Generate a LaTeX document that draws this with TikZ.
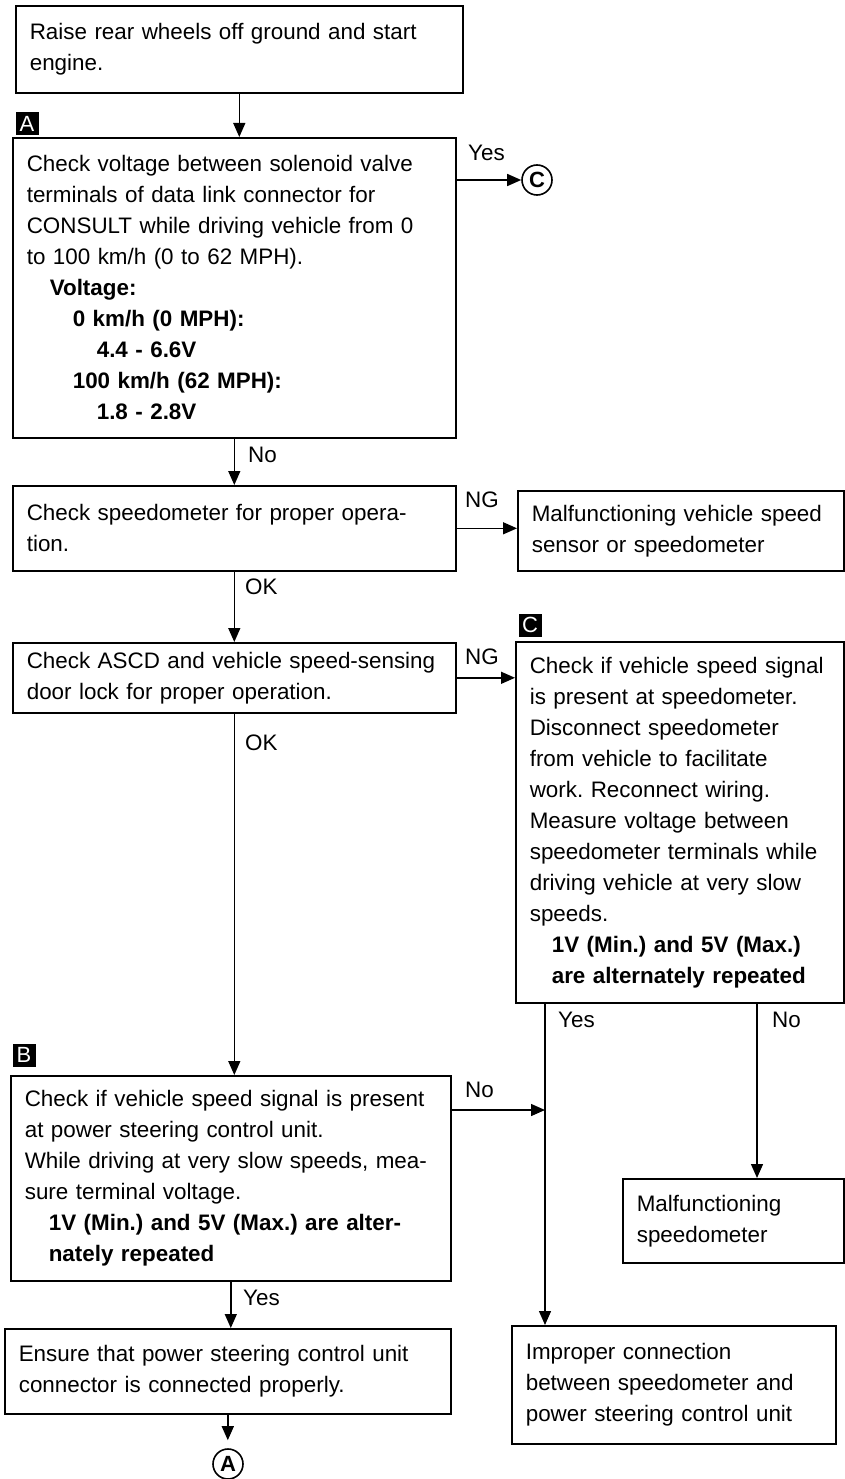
\documentclass[tikz,border=0pt]{standalone}
\usepackage{fontspec}
\setmainfont{Liberation Sans}
\usetikzlibrary{arrows.meta,positioning}
\frenchspacing

\begin{document}
\begin{tikzpicture}[x=1pt, y=-1pt, font=\fontsize{22.4}{31}\selectfont,
  box/.style={draw, line width=1.6pt, anchor=north west, align=left, inner xsep=14pt, inner ysep=0pt},
  flow/.style={-{Triangle[length=14pt,width=12pt]}, line width=1.4pt},
  tag/.style={fill=black, text=white, inner sep=0pt, minimum size=23pt, font=\fontsize{22}{22}\selectfont},
  jump/.style={circle, draw, line width=1.6pt, inner sep=0pt, minimum size=30pt, font=\fontsize{22}{22}\selectfont\bfseries},
  lbl/.style={anchor=west, inner sep=0pt}]
\useasboundingbox (0,0) rectangle (845,1479);
% first check
\node[box, text width=419pt, minimum height=87pt] (start) at (15,5) {Raise rear wheels off ground and start\\engine.};
\node[tag] (tagA) at (27,124) {A};
\node[box, text width=415pt, minimum height=300pt] (volt) at (12,137) {Check voltage between solenoid valve\\terminals of data link connector for\\CONSULT while driving vehicle from 0\\to 100 km/h (0 to 62 MPH).\\\hspace*{23pt}\textbf{Voltage:}\\\hspace*{46pt}\textbf{0 km/h (0 MPH):}\\\hspace*{70pt}\textbf{4.4 - 6.6V}\\\hspace*{46pt}\textbf{100 km/h (62 MPH):}\\\hspace*{70pt}\textbf{1.8 - 2.8V}};
\draw[flow] (start.south) -- (start.south |- volt.north);
\node[jump] (cC) at (537,180) {C};
\draw[flow] (cC -| volt.east) -- (cC.west);
\node[lbl] at (468,153) {Yes};
% speedometer
\node[box, text width=415pt, minimum height=85pt] (speedo) at (12,485) {Check speedometer for proper opera-\\tion.};
\draw[flow] (volt.south) -- (speedo.north);
\node[lbl] at (248,455) {No};
\node[box, text width=298pt, minimum height=80pt] (sensor) at (517,490) {Malfunctioning vehicle speed\\sensor or speedometer};
\draw[flow] (speedo.east) -- (speedo.east -| sensor.west);
\node[lbl] at (465,500) {NG};
% ASCD
\node[box, text width=415pt, minimum height=70pt] (ascd) at (12,642) {Check ASCD and vehicle speed-sensing\\door lock for proper operation.};
\draw[flow] (speedo.south) -- (speedo.south |- ascd.north);
\node[lbl] at (245,587) {OK};
\node[tag] (tagC) at (530,625) {C};
\node[box, text width=300pt, minimum height=361pt] (sigmeter) at (515,641) {Check if vehicle speed signal\\is present at speedometer.\\Disconnect speedometer\\from vehicle to facilitate\\work. Reconnect wiring.\\Measure voltage between\\speedometer terminals while\\driving vehicle at very slow\\speeds.\\\hspace*{22pt}\textbf{1V (Min.) and 5V (Max.)}\\\hspace*{22pt}\textbf{are alternately repeated}};
\draw[flow] (ascd.east) -- (ascd.east -| sigmeter.west);
\node[lbl] at (465,657) {NG};
% power steering unit
\node[tag] (tagB) at (24,1055) {B};
\node[box, text width=412pt, minimum height=205pt] (sigpsu) at (10,1075) {Check if vehicle speed signal is present\\at power steering control unit.\\While driving at very slow speeds, mea-\\sure terminal voltage.\\\hspace*{24pt}\textbf{1V (Min.) and 5V (Max.) are alter-}\\\hspace*{24pt}\textbf{nately repeated}};
\draw[flow] (ascd.south) -- (ascd.south |- sigpsu.north);
\node[lbl] at (245,743) {OK};
\node[box, text width=193pt, minimum height=84pt] (meterbad) at (622,1178) {Malfunctioning\\speedometer};
\node[box, text width=296pt, minimum height=118pt] (improper) at (511,1325) {Improper connection\\between speedometer and\\power steering control unit};
\coordinate (yesout) at (545,1002);
\coordinate (noout) at (757,1002);
\coordinate (nojoin) at (545,1110);
\draw[flow] (yesout) -- (yesout |- improper.north);
\node[lbl] at (558,1020) {Yes};
\draw[flow] (noout) -- (noout |- meterbad.north);
\node[lbl] at (772,1020) {No};
\draw[flow] (nojoin -| sigpsu.east) -- (nojoin);
\node[lbl] at (465,1090) {No};
% last step
\node[box, text width=418pt, minimum height=85pt] (ensure) at (4,1328) {Ensure that power steering control unit\\connector is connected properly.};
\draw[flow] (sigpsu.south) -- (sigpsu.south |- ensure.north);
\node[lbl] at (243,1298) {Yes};
\node[jump] (cA) at (228,1464) {A};
\draw[flow, shorten >=8pt] (ensure.south) -- (ensure.south |- cA.north);
\end{tikzpicture}
\end{document}
